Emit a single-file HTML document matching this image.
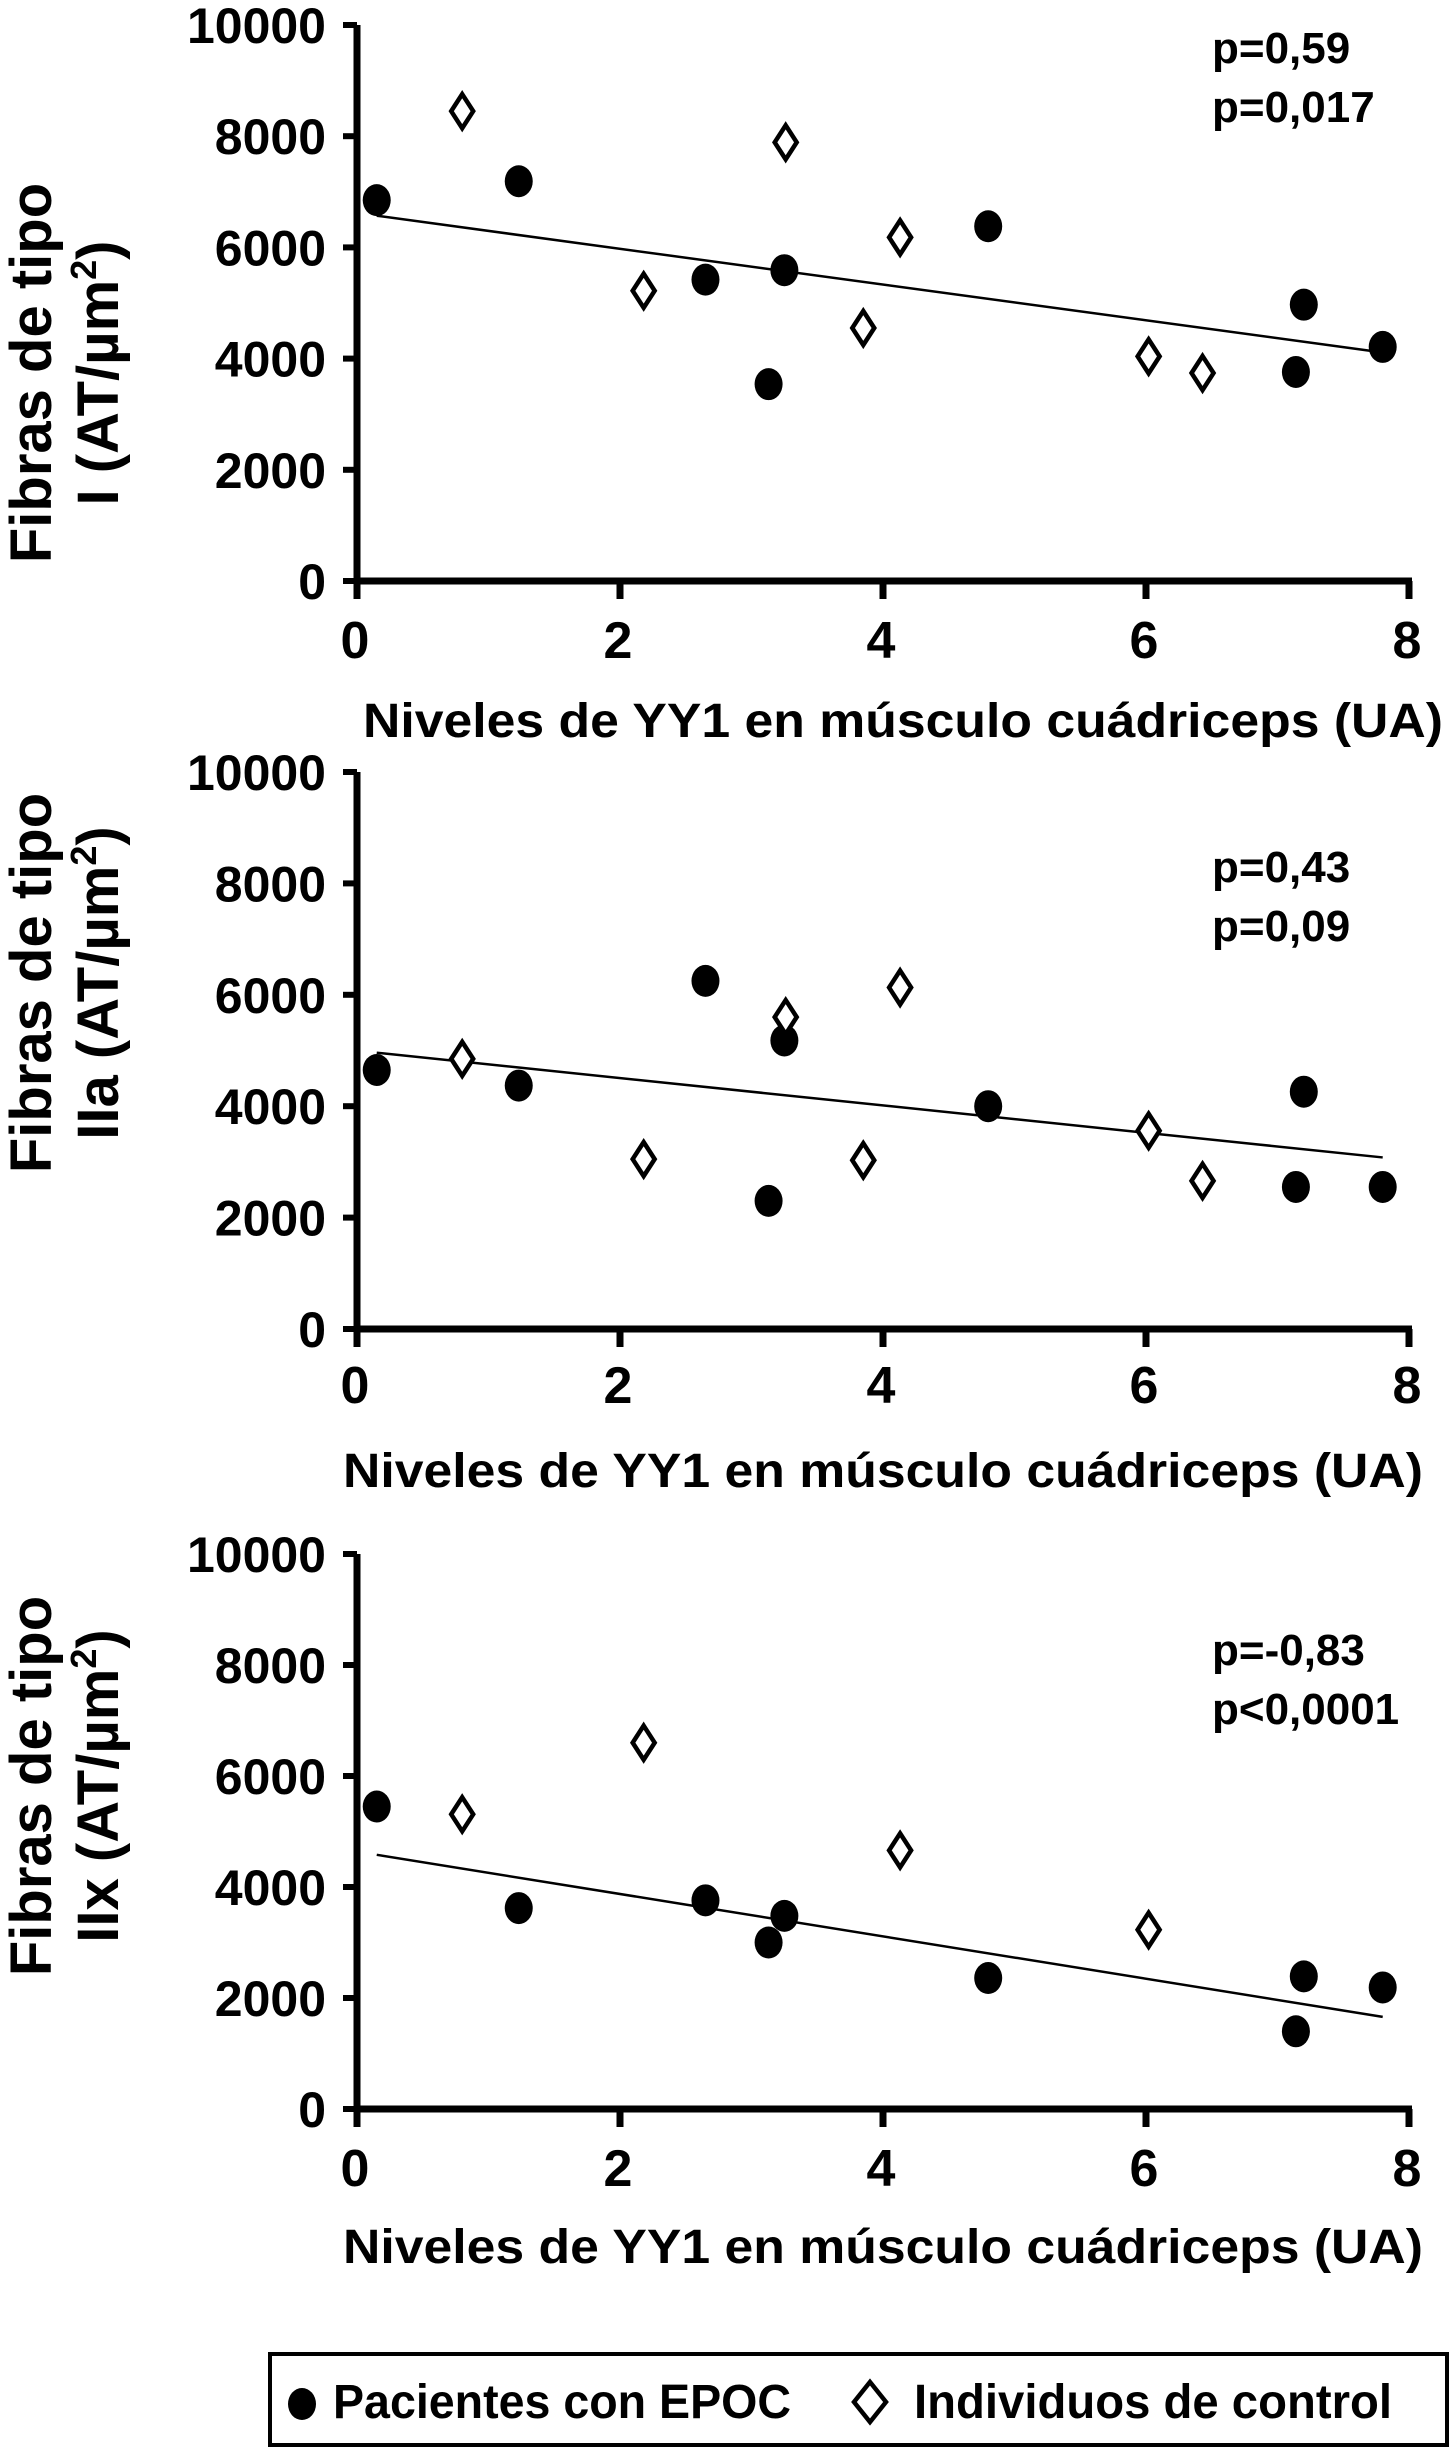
<!DOCTYPE html>
<html><head><meta charset="utf-8"><style>
html,body{margin:0;padding:0;background:#fff;}
svg{display:block;}
text{font-family:"Liberation Sans Narrow","Liberation Sans",sans-serif;font-weight:bold;fill:#000;}
.w{font-family:"Liberation Sans",sans-serif;}
</style></head><body>
<svg id="s" width="1451" height="2458" viewBox="0 0 1451 2458" xmlns="http://www.w3.org/2000/svg"></svg>
<script>
const xTicks=[0,2,4,6,8];
const yTicks=[0,2000,4000,6000,8000,10000];
const titles=["I","IIa","IIx"];
const pText1=["p=0,59","p=0,43","p=-0,83"];
const pText2=["p=0,017","p=0,09","p<0,0001"];
const epocX1=[0.15,1.23,2.65,3.25,3.13,4.8,7.2,7.14,7.8];
const epocY1=[6850,7190,5420,5590,3540,6380,4970,3760,4210];
const ctrlX1=[0.8,2.18,3.26,3.85,4.13,6.02,6.43];
const ctrlY1=[8450,5220,7890,4550,6180,4040,3740];
const trend1=[[0.15,6570],[7.8,4110]];
const epocX2=[0.15,1.23,2.65,3.25,3.13,4.8,7.2,7.14,7.8];
const epocY2=[4650,4370,6250,5180,2300,4000,4260,2550,2550];
const ctrlX2=[0.8,2.18,3.26,3.85,4.13,6.02,6.43];
const ctrlY2=[4850,3050,5600,3030,6130,3560,2660];
const trend2=[[0.15,4960],[7.8,3080]];
const epocX3=[0.15,1.23,2.65,3.25,3.13,4.8,7.2,7.14,7.8];
const epocY3=[5450,3620,3760,3480,3000,2360,2390,1400,2190];
const ctrlX3=[0.8,2.18,4.13,6.02];
const ctrlY3=[5310,6600,4660,3230];
const trend3=[[0.15,4580],[7.8,1660]];

const panels=[
 {top:25,bot:581,ex:epocX1,ey:epocY1,cx:ctrlX1,cy:ctrlY1,tr:trend1,xt:640,xtitle:720,xtx:903,pt:47,yc:373},
 {top:772,bot:1329,ex:epocX2,ey:epocY2,cx:ctrlX2,cy:ctrlY2,tr:trend2,xt:1385,xtitle:1470,xtx:883,pt:866,yc:983},
 {top:1554,bot:2109,ex:epocX3,ey:epocY3,cx:ctrlX3,cy:ctrlY3,tr:trend3,xt:2168,xtitle:2246,xtx:883,pt:1649,yc:1786}
];
const svg=document.getElementById('s');
const NS="http://www.w3.org/2000/svg";
function mk(tag,at,parent){const e=document.createElementNS(NS,tag);for(const k in at)e.setAttribute(k,at[k]);(parent||svg).appendChild(e);return e;}
const X0=357,XU=131.5;
panels.forEach((p,i)=>{
 const g=mk('g',{});
 
 
 const sx=v=>X0+v*XU;
 const sy=v=>p.bot-(v/10000)*(p.bot-p.top);
 const ax=mk('path',{d:`M${X0} ${p.top} V${p.bot} H${sx(8)+3}`,stroke:'#000','stroke-width':7,fill:'none'},g);
 
 
 yTicks.forEach(t=>{
  mk('line',{x1:X0-14,x2:X0,y1:sy(t),y2:sy(t),stroke:'#000','stroke-width':6},g);
  const tx=mk('text',{x:326,y:sy(t)+18,'text-anchor':'end','font-size':50},g);
  tx.textContent=t;
  
  
 });
 xTicks.forEach(t=>{
  mk('line',{x1:sx(t),x2:sx(t),y1:p.bot,y2:p.bot+18,stroke:'#000','stroke-width':7},g);
  const tx=mk('text',{x:sx(t)-2,y:p.xt+18,'text-anchor':'middle','font-size':52},g);
  tx.textContent=t;
  
  
 });
 const xt=mk('text',{x:p.xtx,y:p.xtitle+17,'text-anchor':'middle','font-size':48,textLength:1080,lengthAdjust:'spacingAndGlyphs'},g);
 xt.textContent='Niveles de YY1 en músculo cuádriceps (UA)';
 
 
 const yt=mk('text',{class:'w',transform:`translate(0 ${p.yc}) rotate(-90)`,'text-anchor':'middle','font-size':58},g);
 
 
 const t1=mk('tspan',{x:0,y:51},yt);t1.textContent='Fibras de tipo';
 const t2=mk('tspan',{x:0,y:118},yt);t2.textContent=titles[i]+' (AT/µm';
 const t3=mk('tspan',{'font-size':36,dy:-22},yt);t3.textContent='2';
 const t4=mk('tspan',{dy:22},yt);t4.textContent=')';
 const pa=mk('text',{x:1212,y:p.pt+16,'font-size':44},g);pa.textContent=pText1[i];
 
 
 const pb=mk('text',{x:1212,y:p.pt+75,'font-size':44},g);pb.textContent=pText2[i];
 
 
 const tl=mk('line',{x1:sx(p.tr[0][0]),y1:sy(p.tr[0][1]),x2:sx(p.tr[1][0]),y2:sy(p.tr[1][1]),stroke:'#000','stroke-width':2.5},g);
 
 
 p.ex.forEach((v,j)=>{
  const c=mk('ellipse',{cx:sx(v),cy:sy(p.ey[j]),rx:14,ry:16,fill:'#000'},g);
  
  
 });
 p.cx.forEach((v,j)=>{
  const x=sx(v),y=sy(p.cy[j]);
  const d=mk('path',{d:`M${x} ${y-17} L${x+11} ${y} L${x} ${y+17} L${x-11} ${y} Z`,fill:'#fff',stroke:'#000','stroke-width':4.5},g);
  
  
 });
});
const lg=mk('g',{});


mk('rect',{x:270,y:2354,width:1177,height:91,fill:'#fff',stroke:'#000','stroke-width':4},lg);
const e1=mk('ellipse',{cx:302,cy:2404,rx:14,ry:16,fill:'#000'},lg);


const l1=mk('text',{x:333,y:2418,'font-size':48,textLength:458,lengthAdjust:'spacingAndGlyphs'},lg);l1.textContent='Pacientes con EPOC';


const e2=mk('path',{d:'M870 2382 L886 2402 L870 2422 L854 2402 Z',fill:'#fff',stroke:'#000','stroke-width':4.5},lg);


const l2=mk('text',{x:914,y:2418,'font-size':48,textLength:478,lengthAdjust:'spacingAndGlyphs'},lg);l2.textContent='Individuos de control';


</script>
</body></html>
